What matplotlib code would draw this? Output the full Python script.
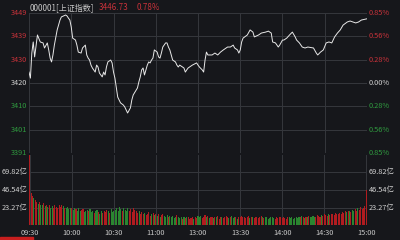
import numpy as np
import matplotlib
matplotlib.use("Agg")
import matplotlib.pyplot as plt

plt.rcParams['font.family'] = ['Noto Sans CJK SC', 'DejaVu Sans']
plt.rcParams['axes.unicode_minus'] = False

# 分时数据 (分钟序号 0..240, 09:30-11:30 + 13:00-15:00)
prev_close = 3420.06
pct_max = 0.85

price_minutes = [
    0, 1, 2, 3, 4, 6, 8, 10, 11, 13, 14, 15, 16, 17, 18, 20, 21, 22, 23, 26,
    27, 28, 29, 30, 31, 33, 34, 35, 37, 38, 40, 41, 42, 43, 44, 45, 47, 48, 49, 50,
    52, 53, 54, 55, 56, 58, 59, 60, 61, 62, 63, 65, 67, 68, 69, 70, 72, 73, 74, 77,
    78, 79, 80, 81, 82, 84, 85, 86, 87, 88, 89, 91, 92, 93, 94, 95, 97, 98, 99, 100,
    101, 102, 104, 105, 106, 107, 109, 110, 111, 112, 113, 114, 116, 119, 120,
    121, 123, 124, 125, 126, 127, 130, 132, 134, 136, 138, 141, 143, 145, 146, 148, 149,
    150, 151, 152, 155, 157, 159, 160, 163, 165, 168, 170, 172, 173, 175, 177, 178, 180,
    181, 183, 185, 187, 189, 190, 192, 194, 196, 198, 202, 204, 205, 207, 209, 211, 213,
    215, 217, 219, 221, 223, 226, 228, 230, 232, 234, 236, 239, 240,
]
price_values = [
    3424.6, 3422.1, 3432.5, 3437.1, 3430.9, 3440.0, 3437.1, 3436.7, 3434.6, 3436.7,
    3433.8, 3430.4, 3428.8, 3431.7, 3435.8, 3442.1, 3444.1, 3446.2, 3447.5, 3448.3,
    3447.9, 3447.0, 3446.2, 3443.3, 3438.7, 3437.9, 3435.8, 3432.9, 3432.5, 3434.6,
    3435.8, 3431.7, 3430.4, 3429.6, 3427.5, 3426.3, 3424.6, 3427.5, 3426.7, 3424.2,
    3422.6, 3424.6, 3423.4, 3426.7, 3428.8, 3429.6, 3428.4, 3424.6, 3422.1, 3418.0,
    3414.2, 3411.8, 3410.9, 3410.1, 3408.9, 3407.6, 3409.7, 3413.0, 3415.1, 3418.0,
    3420.5, 3422.6, 3425.5, 3426.3, 3423.4, 3427.5, 3428.8, 3428.4, 3429.6, 3430.4,
    3433.8, 3432.9, 3430.9, 3430.4, 3432.5, 3435.0, 3436.7, 3436.7, 3435.0, 3433.8,
    3431.7, 3429.6, 3428.8, 3427.5, 3426.7, 3427.5, 3426.7, 3426.3, 3424.6, 3425.5,
    3426.3, 3426.7, 3427.5, 3428.4, 3427.5,
    3426.7, 3425.5, 3424.6, 3429.6, 3432.9, 3431.7, 3431.7, 3432.5, 3431.7, 3432.9,
    3433.8, 3435.0, 3435.0, 3435.8, 3434.6, 3433.8, 3432.5,
    3433.8, 3437.1, 3438.7, 3440.0, 3442.1, 3441.2, 3439.2, 3440.0, 3440.8, 3441.2,
    3441.6, 3440.8, 3437.1, 3436.7, 3435.0, 3435.8, 3437.9,
    3437.9, 3438.7, 3440.0, 3441.2, 3439.2, 3437.9, 3436.7, 3435.0, 3434.6, 3435.0,
    3434.6, 3432.5, 3431.7, 3432.9, 3433.8, 3436.7, 3437.1,
    3436.7, 3439.2, 3440.8, 3442.1, 3444.1, 3445.4, 3445.8, 3445.4, 3445.0, 3445.4,
    3446.2, 3446.6, 3446.73,
]

# 坐标轴标签
price_labels = ['3391', '3401', '3410', '3420', '3430', '3439', '3449']
pct_labels = ['0.85%', '0.56%', '0.28%', '0.00%', '0.28%', '0.56%', '0.85%']

# 成交量 (亿)
volumes = [
    93, 42, 38, 36, 33, 30, 28, 31, 27, 26, 29,
    25, 27, 24, 26, 22, 25, 23, 27, 24, 22,
    26, 24, 27, 25, 23, 22, 24, 21, 23, 22,
    20, 23, 21, 19, 22, 18, 20, 21, 17, 19,
    20, 18, 21, 17, 19, 16, 18, 20, 17, 15,
    18, 16, 19, 17, 20, 18, 16, 21, 17, 19,
    20, 22, 18, 24, 21, 19, 23, 20, 18, 22,
    19, 21, 17, 23, 20, 18, 16, 19, 15, 17,
    14, 16, 13, 15, 17, 12, 14, 16, 13, 15,
    12, 14, 11, 13, 15, 12, 10, 13, 11, 12,
    10, 12, 9, 11, 13, 10, 9, 11, 8, 10,
    9, 11, 10, 8, 9, 11, 8, 10, 9, 12,
    10, 12, 9, 11, 13, 10, 12, 9, 11, 10,
    9, 11, 10, 12, 8, 10, 11, 9, 10, 12,
    11, 9, 10, 12, 9, 11, 10, 8, 10, 11,
    12, 10, 11, 9, 10, 12, 9, 11, 10, 9,
    10, 11, 9, 10, 12, 10, 9, 11, 10, 8,
    9, 10, 11, 9, 8, 10, 9, 11, 10, 9,
    10, 9, 8, 10, 11, 9, 10, 8, 9, 10,
    9, 11, 10, 12, 10, 9, 11, 10, 12, 11,
    10, 12, 11, 10, 13, 12, 11, 13, 12, 14,
    13, 12, 14, 13, 15, 14, 13, 16, 15, 14,
    16, 15, 17, 16, 18, 17, 19, 18, 17, 20,
    19, 21, 18, 22, 20, 24, 21, 23, 25, 46,
]
vol_dirs = (
    "rrrgrrgrggr"
    "grgrggrrrr" "rrrgrggggr" "ggrgggrrgg" "grgggrggrg" "grrrrgrggg"
    "gggggrgggg" "rrrrrrrgrr" "rgrrrrgrgr" "grgrrgggrg" "ggggrgggrg"
    "rgrrrrgrrg" "ggrrrgrgrr" "grgrrrgrrr" "rgrgggrgrr" "rrrrrrgrgr"
    "rrrrrgrggg" "ggggrrrrrr" "rrrrgggggg" "ggrgrgrgrg" "gggrrrrgrr"
    "rrgrrrrrrr" "rrrrrgrgrg" "grrgrrrrrr"
)
vol_ticks = [23.27, 46.54, 69.82]
vol_labels = ['23.27亿', '46.54亿', '69.82亿']
time_labels = ['09:30', '10:00', '10:30', '11:00', '13:00', '13:30', '14:00', '14:30', '15:00']

bg = '#16171b'
grid_c = '#35373d'
red = '#c8323a'
green = '#2f9a3f'
bar_red = '#b01c20'
bar_green = '#2a8630'

fig = plt.figure(figsize=(4, 2.4), dpi=100, facecolor=bg)
ax = fig.add_axes([29 / 400, 1 - 153 / 240, 338 / 400, 140 / 240], facecolor=bg)
axv = fig.add_axes([29 / 400, 1 - 225 / 240, 338 / 400, 70 / 240], facecolor=bg)

# 价格
levels = prev_close * (1 + np.linspace(-pct_max, pct_max, 7) / 100)
ax.plot(price_minutes, price_values, color='#e8e8e8', lw=0.7)
ax.set_xlim(0, 240)
ax.set_ylim(levels[0], levels[-1])
ax.set_yticks([])
ax.set_xticks([])
for lv in levels:
    ax.axhline(lv, color=grid_c, lw=0.7, zorder=0)
for m in range(0, 241, 30):
    ax.axvline(m, color=grid_c, lw=0.7, zorder=0)
for s in ax.spines.values():
    s.set_visible(False)

for i, lv in enumerate(levels):
    c = red if i > 3 else (green if i < 3 else '#d0d0d0')
    ax.text(-1.5, lv, price_labels[i], color=c, fontsize=5.3, ha='right', va='center', clip_on=False)
    ax.text(241.5, lv, pct_labels[i], color=c, fontsize=5.3, ha='left', va='center', clip_on=False)

# 标题
fig.text(30 / 400, 1 - 8 / 240, '000001[上证指数]', color='#c8c8c8', fontsize=5.8, va='center')
fig.text(99 / 400, 1 - 8 / 240, f'{price_values[-1]:.2f}', color=red, fontsize=5.8, va='center')
fig.text(137 / 400, 1 - 8 / 240, f'{(price_values[-1] / prev_close - 1) * 100:.2f}%', color=red,
         fontsize=5.8, va='center')

# 成交量
colors = [bar_red if d == 'r' else bar_green for d in vol_dirs]
axv.bar(np.arange(len(volumes)), volumes, width=0.75, color=colors, linewidth=0)
axv.set_xlim(-0.5, 240.5)
axv.set_ylim(0, 93.09)
axv.set_yticks([])
for v in vol_ticks:
    axv.axhline(v, color=grid_c, lw=0.7, zorder=0)
for m in range(0, 241, 30):
    axv.axvline(m, color=grid_c, lw=0.7, zorder=0)
for s in axv.spines.values():
    s.set_visible(False)
for v, lab in zip(vol_ticks, vol_labels):
    axv.text(-1.5, v, lab, color='#d0d0d0', fontsize=5.3, ha='right', va='center', clip_on=False)
    axv.text(241.5, v, lab, color='#d0d0d0', fontsize=5.3, ha='left', va='center', clip_on=False)
axv.set_xticks(range(0, 241, 30))
axv.set_xticklabels(time_labels, color='#c8c8c8', fontsize=5.3)
axv.tick_params(axis='x', length=0, pad=3)

# 底部标签指示条
fig.patches.append(plt.Rectangle((0, 0), 33 / 400, 3 / 240, transform=fig.transFigure,
                                 color='#c81e1e', figure=fig))

fig.savefig('out.png', dpi=100, facecolor=bg)
